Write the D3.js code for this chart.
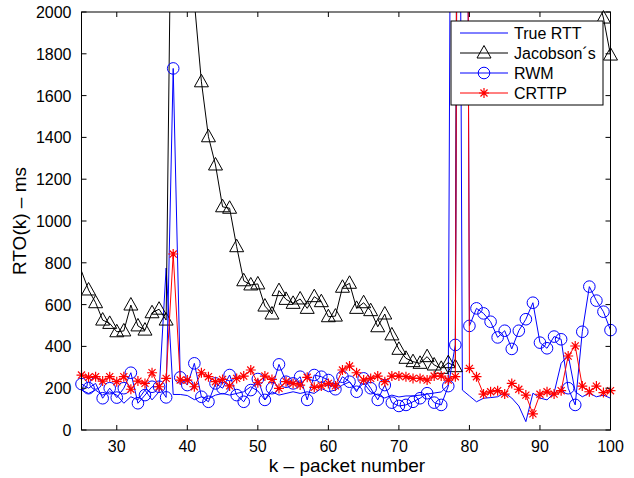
<!DOCTYPE html>
<html>
<head>
<meta charset="utf-8">
<script src="https://cdn.jsdelivr.net/npm/d3@7"></script>
<style>
  body { margin: 0; background: #fff; }
  text { font-family: "Liberation Sans", Arial, sans-serif; }
</style>
</head>
<body>
<svg id="chart" width="634" height="478"></svg>
<script>
// packet index k = 25..100
const packets = d3.range(25, 101);

const trueRtt = [
  191, 175, 191, 167, 183, 167, 128, 159, 144, 191,
  144, 183, 775, 170, 170, 165, 145, 159, 150, 167,
  175, 167, 175, 183, 207, 187, 144, 183, 167, 175,
  183, 175, 183, 175, 199, 183, 191, 215, 230, 190,
  225, 182, 167, 153, 167, 158, 163, 163, 167, 172,
  177, 182, 215, 8000, 191, 163, 135, 152, 155, 159,
  178, 153, 115, 40, 176, 153, 144, 177, 319, 359,
  183, 159, 176, 159, 167, 152
];

const jacobson = [
  760, 670, 609, 526, 510, 470, 474, 598, 498, 478,
  561, 578, 526, 3400, 2900, 2400, 2050, 1666, 1403, 1268,
  1068, 1061, 877, 714, 694, 699, 593, 555, 667, 625,
  606, 627, 582, 638, 614, 542, 545, 683, 702, 582,
  609, 571, 494, 555, 455, 386, 343, 327, 319, 351,
  311, 295, 322, 303, 12000, 11000, 9500, 8200, 7100, 6200,
  5400, 4800, 4300, 3900, 3500, 3200, 2950, 2750, 2550, 2400,
  2300, 2200, 2150, 2100, 1971, 1794
];

const rwm = [
  220, 200, 223, 152, 200, 155, 200, 274, 128, 167,
  207, 207, 156, 1730, 252, 215, 319, 159, 135, 223,
  200, 263, 167, 135, 191, 244, 144, 200, 314, 231,
  223, 255, 144, 263, 255, 239, 195, 255, 231, 183,
  247, 200, 144, 215, 131, 115, 120, 135, 152, 176,
  131, 120, 210, 407, 9000, 498, 582, 558, 518, 443,
  475, 388, 475, 530, 609, 418, 391, 447, 434, 200,
  120, 470, 686, 619, 566, 478
];

const crttp = [
  263, 252, 255, 234, 255, 231, 255, 195, 234, 223,
  274, 207, 247, 842, 239, 239, 207, 274, 255, 231,
  242, 211, 247, 258, 287, 226, 258, 242, 199, 231,
  223, 215, 252, 204, 211, 223, 211, 287, 306, 274,
  239, 247, 258, 231, 258, 258, 255, 247, 247, 239,
  258, 258, 239, 255, 10000, 295, 255, 172, 183, 188,
  172, 223, 195, 167, 77, 171, 183, 172, 188, 354,
  402, 210, 183, 210, 179, 188
];

const xTicks = [30, 40, 50, 60, 70, 80, 90, 100];
const yTicks = d3.range(0, 2001, 200);

const series = [
  { name: "True RTT", values: trueRtt, color: "#0000ff", marker: null, firstMarker: true },
  { name: "Jacobson\u00b4s", values: jacobson, color: "#000000", marker: "triangle", firstMarker: false },
  { name: "RWM", values: rwm, color: "#0000ff", marker: "circle", firstMarker: true },
  { name: "CRTTP", values: crttp, color: "#ff0000", marker: "star", firstMarker: true }
];

const plotLeft = 81.5, plotRight = 610.5, plotTop = 12, plotBottom = 430;

const svg = d3.select("#chart");

const x = d3.scaleLinear().domain([25, 100]).range([plotLeft, plotRight]);
const y = d3.scaleLinear().domain([0, 2000]).range([plotBottom, plotTop]);

svg.append("defs").append("clipPath")
    .attr("id", "plotClip")
  .append("rect")
    .attr("x", plotLeft).attr("y", plotTop)
    .attr("width", plotRight - plotLeft).attr("height", plotBottom - plotTop);

// markers
const drawMarker = (g, type, color) => {
  if (type === "triangle") {
    g.append("path")
      .attr("d", "M0,-7.5 L7,5 L-7,5 Z")
      .attr("fill", "none").attr("stroke", color).attr("stroke-width", 1);
  } else if (type === "circle") {
    g.append("circle")
      .attr("r", 5.8)
      .attr("fill", "none").attr("stroke", color).attr("stroke-width", 1);
  } else if (type === "star") {
    const r = 5;
    const d = [0, 45, 90, 135].map(a => {
      const t = a * Math.PI / 180;
      return `M${-r * Math.cos(t)},${-r * Math.sin(t)} L${r * Math.cos(t)},${r * Math.sin(t)}`;
    }).join(" ");
    g.append("path")
      .attr("d", d)
      .attr("fill", "none").attr("stroke", color).attr("stroke-width", 1.2);
  }
};

const line = d3.line()
    .x((d, i) => x(packets[i]))
    .y(d => y(d));

const plot = svg.append("g");

series.forEach(s => {
  plot.append("path")
      .attr("clip-path", "url(#plotClip)")
      .attr("d", line(s.values))
      .attr("fill", "none")
      .attr("stroke", s.color)
      .attr("stroke-width", 1)
      .attr("stroke-linejoin", "round");

  if (s.marker) {
    s.values.forEach((v, i) => {
      if (v < 0 || v > 2000) return;
      if (i === 0 && !s.firstMarker) return;
      const g = plot.append("g")
          .attr("transform", `translate(${x(packets[i])},${y(v)})`);
      drawMarker(g, s.marker, s.color);
    });
  }
});

// frame and ticks (inward, on all four sides)
const axisG = svg.append("g");

axisG.append("rect")
    .attr("x", plotLeft).attr("y", plotTop)
    .attr("width", plotRight - plotLeft).attr("height", plotBottom - plotTop)
    .attr("fill", "none").attr("stroke", "#000").attr("stroke-width", 1);

xTicks.forEach(t => {
  axisG.append("line")
      .attr("x1", x(t)).attr("x2", x(t))
      .attr("y1", plotBottom).attr("y2", plotBottom - 5)
      .attr("stroke", "#000");
  axisG.append("line")
      .attr("x1", x(t)).attr("x2", x(t))
      .attr("y1", plotTop).attr("y2", plotTop + 5)
      .attr("stroke", "#000");
  axisG.append("text")
      .attr("x", x(t)).attr("y", plotBottom + 22)
      .attr("text-anchor", "middle")
      .attr("font-size", 16)
      .text(t);
});

yTicks.forEach(t => {
  axisG.append("line")
      .attr("x1", plotLeft).attr("x2", plotLeft + 5)
      .attr("y1", y(t)).attr("y2", y(t))
      .attr("stroke", "#000");
  axisG.append("line")
      .attr("x1", plotRight).attr("x2", plotRight - 5)
      .attr("y1", y(t)).attr("y2", y(t))
      .attr("stroke", "#000");
  axisG.append("text")
      .attr("x", plotLeft - 10).attr("y", y(t) + 6)
      .attr("text-anchor", "end")
      .attr("font-size", 16)
      .text(t);
});

svg.append("text")
    .attr("x", 347).attr("y", 472)
    .attr("text-anchor", "middle")
    .attr("font-size", 19)
    .text("k \u2013 packet number");

svg.append("text")
    .attr("transform", `translate(26,${(plotTop + plotBottom) / 2}) rotate(-90)`)
    .attr("text-anchor", "middle")
    .attr("font-size", 19)
    .text("RTO(k) \u2013 ms");

// legend
const legend = svg.append("g").attr("transform", "translate(451,21)");
legend.append("rect")
    .attr("width", 152).attr("height", 84)
    .attr("fill", "#fff").attr("stroke", "#000").attr("stroke-width", 1);

series.forEach((s, i) => {
  const ly = 12 + i * 20;
  legend.append("line")
      .attr("x1", 9).attr("x2", 57)
      .attr("y1", ly).attr("y2", ly)
      .attr("stroke", s.color).attr("stroke-width", 1);
  if (s.marker) {
    const g = legend.append("g").attr("transform", `translate(33,${ly})`);
    drawMarker(g, s.marker, s.color);
  }
  legend.append("text")
      .attr("x", 63).attr("y", ly + 6)
      .attr("font-size", 16)
      .text(s.name);
});
</script>
</body>
</html>
